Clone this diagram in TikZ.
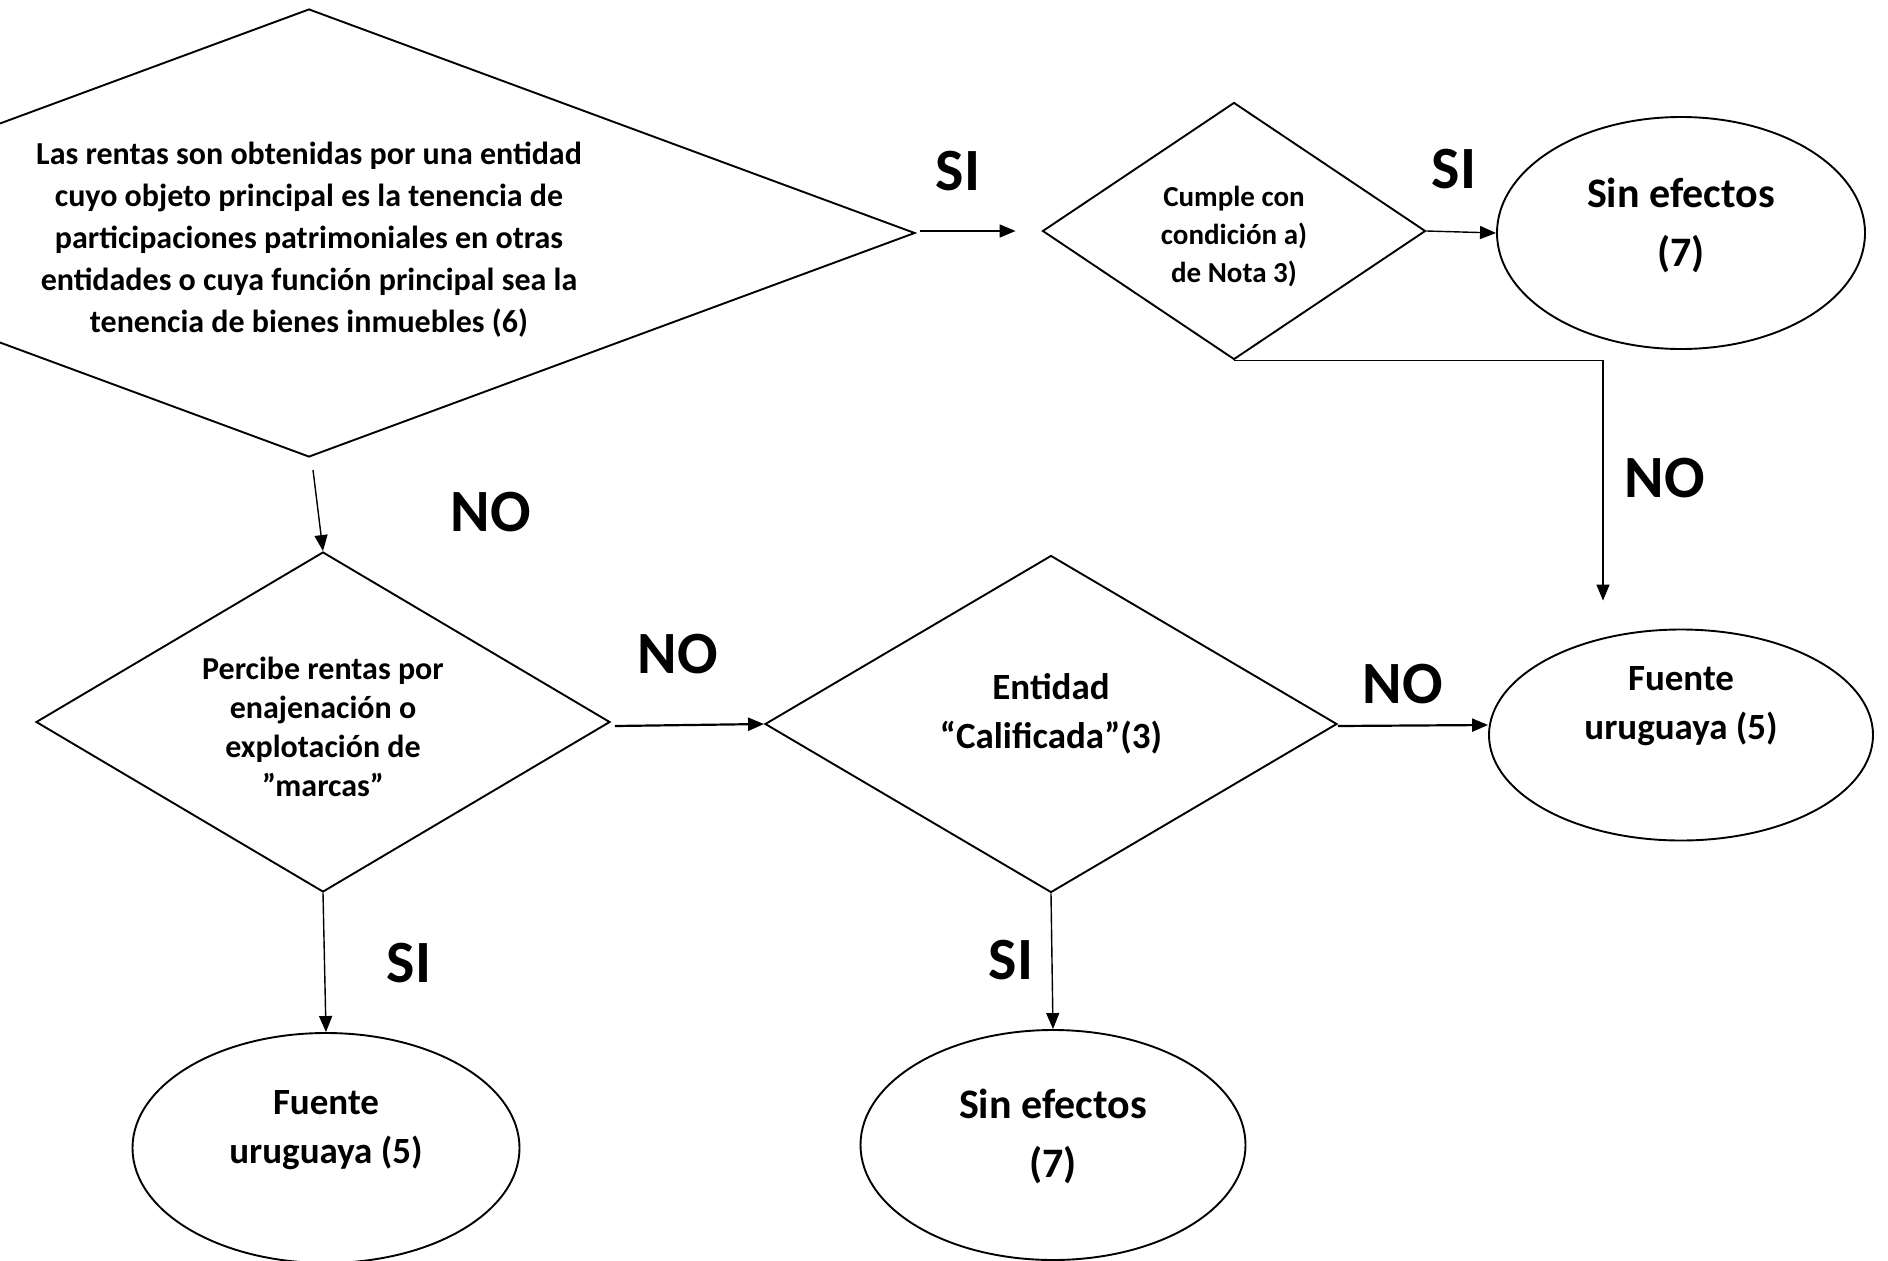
\documentclass[tikz,border=0pt]{standalone}
\usepackage{fontspec}
\setmainfont{Carlito}
\usetikzlibrary{arrows.meta,shapes.geometric,calc}

\begin{document}
\begin{tikzpicture}[x=1pt,y=-1pt,
  decision/.style={diamond, draw, line width=1.9pt, inner sep=0pt, align=center},
  outcome/.style ={ellipse, draw, line width=1.9pt, inner sep=0pt, align=center},
  answer/.style  ={inner sep=0pt, font=\bfseries\fontsize{60}{60}\selectfont},
  arr/.style={-{Triangle[length=16pt,width=13pt]}, line width=1.4pt},
  thickarr/.style={arr, line width=2.2pt}
]
  \useasboundingbox (0,0) rectangle (1888,1261);
  \clip (0,0) rectangle (1888,1261);

  % decisions
  \node[decision, aspect=2.7, minimum width=1212pt, minimum height=448pt,
        text height=199pt, text depth=0pt,
        font=\bfseries\fontsize{32}{42}\selectfont] (tenencia) at (309,233)
    {Las rentas son obtenidas por una entidad\\cuyo objeto principal es la tenencia de\\participaciones patrimoniales en otras\\entidades o cuya función principal sea la\\tenencia de bienes inmuebles (6)};
  \node[decision, aspect=1.5, minimum width=383pt, minimum height=257pt,
        text height=103pt, text depth=0pt,
        font=\bfseries\fontsize{29}{38}\selectfont] (nota) at (1234,231)
    {Cumple con\\condición a)\\de Nota 3)};
  \node[decision, aspect=1.7, minimum width=574pt, minimum height=340pt,
        text height=148pt, text depth=0pt,
        font=\bfseries\fontsize{32}{39}\selectfont] (marcas) at (323,722)
    {Percibe rentas por\\enajenación o\\explotación de\\”marcas”};
  \node[decision, aspect=1.7, minimum width=572pt, minimum height=337pt,
        text height=73pt, text depth=24pt,
        font=\bfseries\fontsize{37}{49}\selectfont] (calif) at (1051,724)
    {Entidad\\“Calificada”(3)};

  % outcomes
  \node[outcome, minimum width=368pt, minimum height=232pt,
        text height=86pt, text depth=20pt,
        font=\bfseries\fontsize{42}{59}\selectfont] (sinef1) at (1681,233)
    {Sin efectos\\(7)};
  \node[outcome, minimum width=384pt, minimum height=211pt,
        text height=73pt, text depth=65pt,
        font=\bfseries\fontsize{37}{49}\selectfont] (fuente1) at (1681,735)
    {Fuente\\uruguaya (5)};
  \node[outcome, minimum width=387pt, minimum height=230pt,
        text height=73pt, text depth=43pt,
        font=\bfseries\fontsize{37}{49}\selectfont] (fuente2) at (326,1148)
    {Fuente\\uruguaya (5)};
  \node[outcome, minimum width=385pt, minimum height=230pt,
        text height=86pt, text depth=22pt,
        font=\bfseries\fontsize{42}{59}\selectfont] (sinef2) at (1053,1145)
    {Sin efectos\\(7)};

  % SI / NO
  \node[answer] (si1) at (958,171)  {SI};
  \node[answer] (si2) at (1454,169) {SI};
  \node[answer] (no1) at (1665,478) {NO};
  \node[answer] (no2) at (491,512)  {NO};
  \node[answer] (no3) at (678,654)  {NO};
  \node[answer] (no4) at (1403,684) {NO};
  \node[answer] (si3) at (409,963)  {SI};
  \node[answer] (si4) at (1011,960) {SI};

  % connectors
  \draw[arr] ($(tenencia.east)+(4,-2)$) -- ($(nota.west)+(-26,0)$);
  \draw[arr] (nota.east) -- (sinef1.west);
  \draw[arr] (nota.south) -| ($(fuente1.north)+(-78,-28)$);
  \draw[arr] ($(tenencia.south)+(4,12)$) -- (marcas.north);
  \draw[thickarr] ($(marcas.east)+(4,4)$) -- (calif.west);
  \draw[thickarr] ($(calif.east)+(0,2)$) -- ($(calif.east -| fuente1.west)+(0,1)$);
  \draw[arr] (marcas.south) -- (fuente2.north);
  \draw[arr] (calif.south) -- (sinef2.north);
\end{tikzpicture}
\end{document}
